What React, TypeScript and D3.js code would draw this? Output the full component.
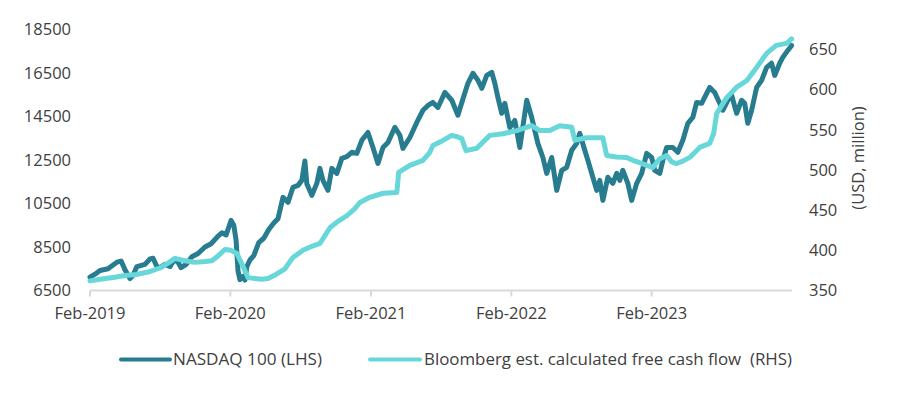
import React from "react";
import * as d3 from "d3";

// NASDAQ 100 (LHS)
const nasdaqDates = [
  "2019-02-01","2019-02-14","2019-02-27","2019-03-20","2019-04-12","2019-04-23","2019-05-03","2019-05-16","2019-05-24","2019-06-03",
  "2019-06-24","2019-07-07","2019-07-15","2019-07-25","2019-08-02","2019-08-15","2019-08-28","2019-09-10","2019-09-18","2019-09-26",
  "2019-10-09","2019-10-24","2019-11-09","2019-11-27","2019-12-13","2019-12-31","2020-01-10","2020-01-21","2020-02-03","2020-02-10",
  "2020-02-16","2020-02-21","2020-02-26","2020-03-05","2020-03-10","2020-03-15","2020-03-23","2020-04-02","2020-04-15","2020-04-28",
  "2020-05-11","2020-05-24","2020-06-04","2020-06-17","2020-06-30","2020-07-13","2020-07-26","2020-08-05","2020-08-13","2020-08-18",
  "2020-08-31","2020-09-13","2020-09-21","2020-09-29","2020-10-12","2020-10-22","2020-11-04","2020-11-17","2020-11-30","2020-12-13",
  "2020-12-26","2021-01-08","2021-01-24","2021-02-06","2021-02-19","2021-03-04","2021-03-17","2021-04-04","2021-04-17","2021-04-25",
  "2021-05-13","2021-05-31","2021-06-16","2021-06-29","2021-07-12","2021-07-25","2021-08-12","2021-08-30","2021-09-15","2021-09-28",
  "2021-10-11","2021-10-24","2021-11-06","2021-11-16","2021-11-29","2021-12-12","2021-12-20","2021-12-28","2022-01-07","2022-01-15",
  "2022-01-28","2022-02-10","2022-02-23","2022-03-13","2022-03-26","2022-04-11","2022-04-24","2022-05-04","2022-05-17","2022-05-30",
  "2022-06-12","2022-06-25","2022-07-08","2022-07-21","2022-07-29","2022-08-11","2022-08-19","2022-09-01","2022-09-11","2022-09-19",
  "2022-09-27","2022-10-10","2022-10-23","2022-11-02","2022-11-10","2022-11-18","2022-12-01","2022-12-11","2022-12-24","2023-01-06",
  "2023-01-19","2023-02-01","2023-02-09","2023-02-22","2023-03-02","2023-03-12","2023-03-28","2023-04-10","2023-04-23","2023-05-06",
  "2023-05-19","2023-05-29","2023-06-11","2023-06-24","2023-07-02","2023-07-15","2023-07-28","2023-08-05","2023-08-18","2023-08-28",
  "2023-09-10","2023-09-23","2023-10-01","2023-10-09","2023-10-19","2023-11-01","2023-11-14","2023-11-27","2023-12-10","2023-12-18",
  "2023-12-31","2024-01-08","2024-01-21","2024-01-31",
];
const nasdaqValues = [
  7110,7250,7420,7500,7800,7850,7450,7050,7200,7600,
  7700,7950,7980,7600,7550,7700,7600,7950,7800,7550,
  7700,8050,8200,8500,8650,9000,9150,9050,9720,9500,
  8800,7400,7000,7150,6980,7600,7900,8100,8700,8900,
  9300,9600,9800,10780,10550,11240,11330,11560,12450,11400,
  10870,11420,12110,11560,11100,12110,11880,12570,12650,12850,
  12800,13400,13760,13070,12340,13070,13300,14000,13630,13030,
  13530,14220,14780,15000,15140,14910,15600,15240,14550,15300,
  16020,16480,16160,15790,16380,16520,16020,15370,14640,15100,
  13990,14310,13070,15240,14450,13260,12610,11880,12610,11100,
  12020,12160,12940,13260,13720,12940,12480,11700,11100,11560,
  10640,11700,11420,11880,11560,12020,11420,10640,11420,11880,
  12800,12610,12020,11880,12480,13070,13070,12850,13400,14180,
  14450,15140,15100,15560,15830,15600,15100,14780,15240,15470,
  14640,15240,15100,14180,14780,15830,16160,16750,16940,16380,
  16940,17210,17530,17760,
];

// Bloomberg est. calculated free cash flow (RHS, USD million)
const fcfDates = [
  "2019-02-01","2019-02-27","2019-04-07","2019-05-03","2019-06-01","2019-07-02","2019-08-02","2019-08-23","2019-09-10","2019-10-06",
  "2019-11-01","2019-11-27","2019-12-15","2019-12-31","2020-01-18","2020-02-03","2020-02-18","2020-03-05","2020-03-18","2020-04-05",
  "2020-04-23","2020-05-09","2020-05-30","2020-06-22","2020-07-05","2020-07-13","2020-08-08","2020-08-31","2020-09-21","2020-10-17",
  "2020-11-07","2020-11-30","2020-12-21","2021-01-03","2021-01-29","2021-03-04","2021-04-09","2021-04-14","2021-05-13","2021-06-16",
  "2021-07-04","2021-07-12","2021-08-07","2021-08-30","2021-09-15","2021-09-25","2021-10-06","2021-11-03","2021-12-07","2022-01-10",
  "2022-02-15","2022-03-26","2022-04-16","2022-05-12","2022-06-07","2022-07-08","2022-07-16","2022-08-16","2022-09-27","2022-10-07",
  "2022-11-02","2022-11-28","2022-12-14","2023-01-01","2023-01-19","2023-02-04","2023-02-22","2023-03-12","2023-03-25","2023-04-07",
  "2023-04-23","2023-05-11","2023-06-06","2023-07-02","2023-07-12","2023-07-20","2023-08-02","2023-08-15","2023-09-10","2023-10-06",
  "2023-11-01","2023-11-27","2023-12-22","2024-01-18","2024-01-31",
];
const fcfValues = [
  362,364,366.5,368.7,370,373,378,384,390,387,
  385,386,387,393,401,400,396,380,366,365,
  364,365,370,377,386,391,400,405,408.5,428,
  436,443,452,459.5,466,471,472,497,505.6,512,
  522,530.5,536.7,543,541,539,524,527,543,545,
  549,555,549,549,555,553,537,540,540,518,
  516,515.6,512,509,505.6,503,514,518,510,508,
  511,515.6,528,533,545,570,580,590,603,611,
  627.6,645,655,657.5,663,
];

const leftTicks = [6500, 8500, 10500, 12500, 14500, 16500, 18500];
const rightTicks = [350, 400, 450, 500, 550, 600, 650];
const xTickDates = ["2019-02-01", "2020-02-01", "2021-02-01", "2022-02-01", "2023-02-01"];
const seriesNames = ["NASDAQ 100 (LHS)", "Bloomberg est. calculated free cash flow  (RHS)"];
const rightAxisTitle = "(USD, million)";

const W = 905;
const H = 399;
const FONT = "'Open Sans', 'Noto Sans', sans-serif";
const TEXT = "#404040";
const DARK = "#277d8f";
const CYAN = "#68d7da";

export default function App() {
  const parse = d3.timeParse("%Y-%m-%d");
  const fmt = d3.timeFormat("%b-%Y");

  const x = d3
    .scaleTime()
    .domain([parse("2019-02-01")!, parse("2024-02-01")!])
    .range([90, 792]);
  const yL = d3.scaleLinear().domain([6500, 18500]).range([290.5, 29.3]);
  const yR = d3.scaleLinear().domain([350, 675]).range([290.5, 29.3]);

  const nas = nasdaqDates.map((d, i) => ({ d: parse(d)!, v: nasdaqValues[i] }));
  const fcf = fcfDates.map((d, i) => ({ d: parse(d)!, v: fcfValues[i] }));

  const lineL = d3
    .line<{ d: Date; v: number }>()
    .x((p) => x(p.d))
    .y((p) => yL(p.v));
  const lineR = d3
    .line<{ d: Date; v: number }>()
    .x((p) => x(p.d))
    .y((p) => yR(p.v));

  const [x0, x1] = x.range();

  return (
    <svg
      width={W}
      height={H}
      viewBox={`0 0 ${W} ${H}`}
      style={{ position: "absolute", left: 0, top: 0, background: "#fff" }}
      fontFamily={FONT}
    >
      <rect width={W} height={H} fill="#fff" />

      {/* x axis */}
      <line x1={x0} x2={x1} y1={yL(6500)} y2={yL(6500)} stroke="#d9d9d9" strokeWidth={2} />
      {xTickDates.map((t) => {
        const xx = x(parse(t)!);
        return (
          <g key={t}>
            <line x1={xx} x2={xx} y1={yL(6500)} y2={yL(6500) + 6} stroke="#d9d9d9" strokeWidth={2} />
            <text x={xx} y={319} textAnchor="middle" fontSize={16.5} fill={TEXT}>
              {fmt(parse(t)!)}
            </text>
          </g>
        );
      })}

      {/* left axis labels */}
      {leftTicks.map((t) => (
        <text key={t} x={71} y={yL(t)} dy="0.35em" textAnchor="end" fontSize={16.5} fill={TEXT}>
          {t}
        </text>
      ))}

      {/* right axis labels */}
      {rightTicks.map((t) => (
        <text key={t} x={809} y={yR(t)} dy="0.35em" textAnchor="start" fontSize={16.5} fill={TEXT}>
          {t}
        </text>
      ))}
      <text
        transform={`translate(858,158) rotate(-90)`}
        textAnchor="middle"
        dy="0.35em"
        fontSize={16.5}
        fill={TEXT}
      >
        {rightAxisTitle}
      </text>

      {/* series */}
      <path d={lineL(nas) || ""} fill="none" stroke={DARK} strokeWidth={5} strokeLinejoin="round" strokeLinecap="round" />
      <path d={lineR(fcf) || ""} fill="none" stroke={CYAN} strokeWidth={5} strokeLinejoin="round" strokeLinecap="round" />

      {/* legend */}
      <line x1={121} x2={170} y1={359.5} y2={359.5} stroke={DARK} strokeWidth={4} strokeLinecap="round" />
      <text x={173} y={359.5} dy="0.35em" fontSize={17} fill={TEXT} textLength={149} lengthAdjust="spacingAndGlyphs">
        {seriesNames[0]}
      </text>
      <line x1={370} x2={420} y1={359.5} y2={359.5} stroke={CYAN} strokeWidth={4} strokeLinecap="round" />
      <text
        x={424}
        y={359.5}
        dy="0.35em"
        fontSize={17}
        fill={TEXT}
        textLength={368}
        lengthAdjust="spacingAndGlyphs"
        style={{ whiteSpace: "pre" }}
      >
        {seriesNames[1]}
      </text>
    </svg>
  );
}
